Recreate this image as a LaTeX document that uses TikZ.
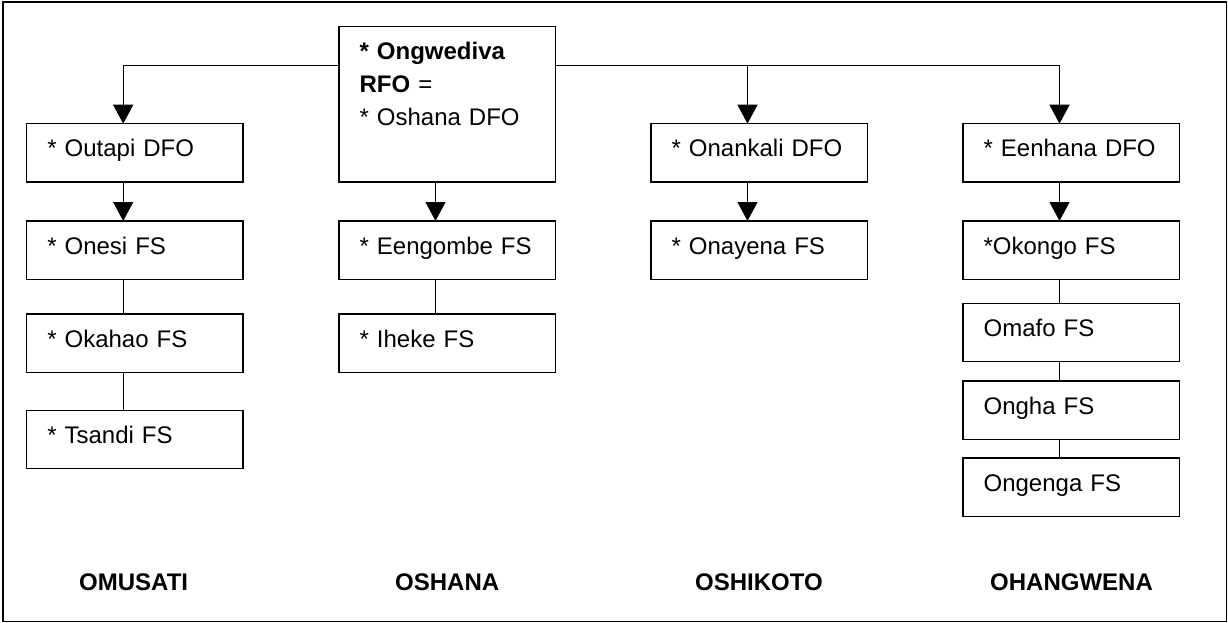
\documentclass[tikz,border=0pt]{standalone}
\usepackage{fontspec}
\setmainfont{Liberation Sans}
\usetikzlibrary{arrows.meta}
\begin{document}
\begin{tikzpicture}[x=1pt,y=-1pt,
  box/.style={draw, line width=1.5pt, anchor=north west, outer sep=0pt,
    inner xsep=20.6pt, inner ysep=0pt, text width=175.3pt, align=left,
    font=\fontsize{24}{33}\selectfont, text height=33pt, text depth=25.3pt},
  arr/.style={line width=1.3pt, -{Triangle[width=20pt,length=19pt]}},
  link/.style={line width=1.3pt},
  region/.style={anchor=base west, inner sep=0pt, font=\fontsize{24}{29}\selectfont\bfseries}]
\useasboundingbox (0,0) rectangle (1228,623);
\draw[line width=1.5pt] (3,2) rectangle (1226.7,621.7);

% OMUSATI
\node[box] (outapi) at (26.7,123.7) {* Outapi DFO};
\node[box] (onesi)  at (26.7,221)   {* Onesi FS};
\node[box] (okahao) at (26.7,314)   {* Okahao FS};
\node[box] (tsandi) at (26.7,410.3) {* Tsandi FS};
% OSHANA
\node[box, text depth=122.7pt] (rfo) at (339,26.3)
  {\textbf{* Ongwediva}\\\textbf{RFO} =\\{*} Oshana DFO};
\node[box] (eengombe) at (339,221) {* Eengombe FS};
\node[box] (iheke)    at (339,314) {* Iheke FS};
% OSHIKOTO
\node[box] (onankali) at (651,123.7) {* Onankali DFO};
\node[box] (onayena)  at (651,221)   {* Onayena FS};
% OHANGWENA
\node[box] (eenhana) at (963,123.7) {* Eenhana DFO};
\node[box] (okongo)  at (963,221)   {*Okongo FS};
\node[box] (omafo)   at (963,303.3) {Omafo FS};
\node[box] (ongha)   at (963,381)   {Ongha FS};
\node[box] (ongenga) at (963,458)   {Ongenga FS};

% region labels
\node[region] (lomusati)   at (79,590.5)  {OMUSATI};
\node[region] (loshana)    at (395,590.5) {OSHANA};
\node[region] (loshikoto)  at (695,590.5) {OSHIKOTO};
\node[region] (lohangwena) at (990,590.5) {OHANGWENA};

% connectors
\coordinate (hy) at (0,65.3);
\draw[arr] (rfo.west |- hy) -| ([xshift=96.5pt]outapi.north west);
\draw[arr] (rfo.east |- hy) -| ([xshift=96.5pt]onankali.north west);
\draw[arr] (rfo.east |- hy) -| ([xshift=96.5pt]eenhana.north west);

\draw[arr]  ([xshift=96.5pt]outapi.south west) -- ([xshift=96.5pt]onesi.north west);
\draw[link] ([xshift=96.5pt]onesi.south west)  -- ([xshift=96.5pt]okahao.north west);
\draw[link] ([xshift=96.5pt]okahao.south west) -- ([xshift=96.5pt]tsandi.north west);

\draw[arr]  ([xshift=96.5pt]rfo.south west)      -- ([xshift=96.5pt]eengombe.north west);
\draw[link] ([xshift=96.5pt]eengombe.south west) -- ([xshift=96.5pt]iheke.north west);

\draw[arr]  ([xshift=96.5pt]onankali.south west) -- ([xshift=96.5pt]onayena.north west);

\draw[arr]  ([xshift=96.5pt]eenhana.south west) -- ([xshift=96.5pt]okongo.north west);
\draw[link] ([xshift=96.5pt]okongo.south west)  -- ([xshift=96.5pt]omafo.north west);
\draw[link] ([xshift=96.5pt]omafo.south west)   -- ([xshift=96.5pt]ongha.north west);
\draw[link] ([xshift=96.5pt]ongha.south west)   -- ([xshift=96.5pt]ongenga.north west);
\end{tikzpicture}
\end{document}
